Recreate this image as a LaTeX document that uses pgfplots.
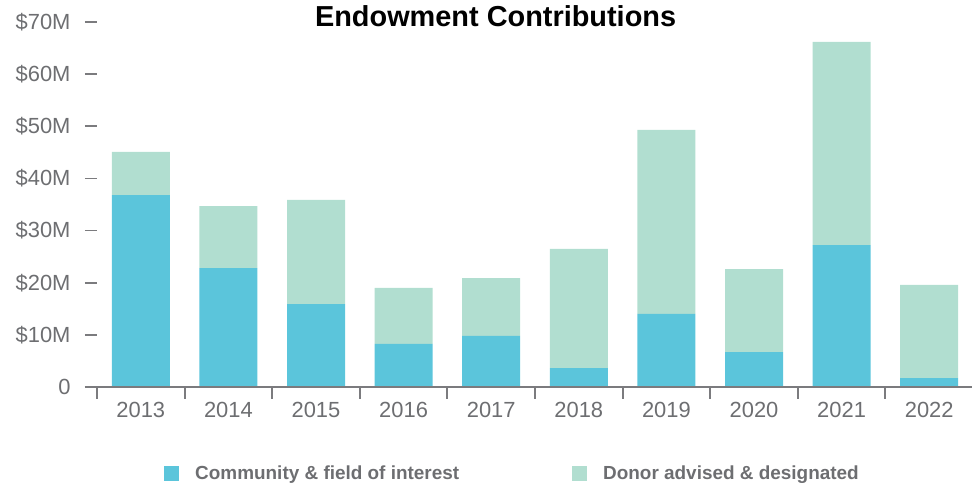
\documentclass[border=0pt]{standalone}
\usepackage{pgfplots}
\pgfplotsset{compat=1.18}
\usetikzlibrary{calc}
\usepackage{fontspec}
\setmainfont{Liberation Sans}
\definecolor{comm}{HTML}{5BC5DB}
\definecolor{donor}{HTML}{B1DED0}
\definecolor{axgray}{HTML}{7B7B7E}
\definecolor{txtgray}{HTML}{6D6E71}

\begin{document}
\begin{tikzpicture}
\begin{axis}[
  scale only axis,
  width=876bp, height=365bp,
  ybar stacked, bar width=58bp,
  xmin=-0.5, xmax=9.5, ymin=0, ymax=70,
  axis x line*=bottom, axis y line*=left,
  y axis line style={draw=none},
  x axis line style={line width=2.4bp, draw=axgray, shorten <=-12bp},
  xtick={0,...,9},
  xticklabels={2013,2014,2015,2016,2017,2018,2019,2020,2021,2022},
  minor xtick={-0.5,0.5,...,8.5},
  every major x tick/.append style={draw=none},
  every minor x tick/.append style={line width=2bp, draw=axgray},
  every major y tick/.append style={line width=1.8bp, draw=axgray},
  major tick length=12bp, minor tick length=12bp,
  tick align=outside,
  ytick={0,10,...,70},
  yticklabels={0,\$10M,\$20M,\$30M,\$40M,\$50M,\$60M,\$70M},
  tick label style={font=\fontsize{22}{22}\selectfont, text=txtgray},
  yticklabel style={xshift=-11bp},
  axis on top,
  clip=false,
  legend style={at={(rel axis cs:0.0765,-0.238)}, anchor=west, draw=none, fill=none,
    inner sep=0pt, legend columns=2,
    font=\fontsize{19}{20}\bfseries\selectfont, text=txtgray,
    nodes={inner sep=0pt},
    /tikz/every odd column/.append style={column sep=16bp},
    /tikz/every even column/.append style={column sep=113bp}},
]
\addplot[fill=comm, draw=none,
  legend image code/.code={\fill[comm] (0bp,-7.5bp) rectangle (15bp,7.5bp);}]
  coordinates {(0,36.8) (1,22.8) (2,15.9) (3,8.25) (4,9.8) (5,3.6) (6,14.0) (7,6.7) (8,27.2) (9,1.7)};
\addlegendentry{Community \& field of interest}
\addplot[fill=donor, draw=none,
  legend image code/.code={\fill[donor] (0bp,-7.5bp) rectangle (15bp,7.5bp);}]
  coordinates {(0,8.3) (1,11.9) (2,20.0) (3,10.75) (4,11.1) (5,22.9) (6,35.3) (7,15.9) (8,39.0) (9,17.9)};
\addlegendentry{Donor advised \& designated}
\node[anchor=base, yshift=-5bp, font=\fontsize{29}{29}\bfseries\selectfont, text=black]
  at (rel axis cs:0.455,1) {Endowment Contributions};
\coordinate (ll) at (rel axis cs:0,0);
\coordinate (ur) at (rel axis cs:1,1);
\end{axis}
\pgfresetboundingbox
\path[use as bounding box] ($(ll)+(-97bp,-98bp)$) rectangle ($(ur)+(-1bp,22bp)$);
\end{tikzpicture}
\end{document}
